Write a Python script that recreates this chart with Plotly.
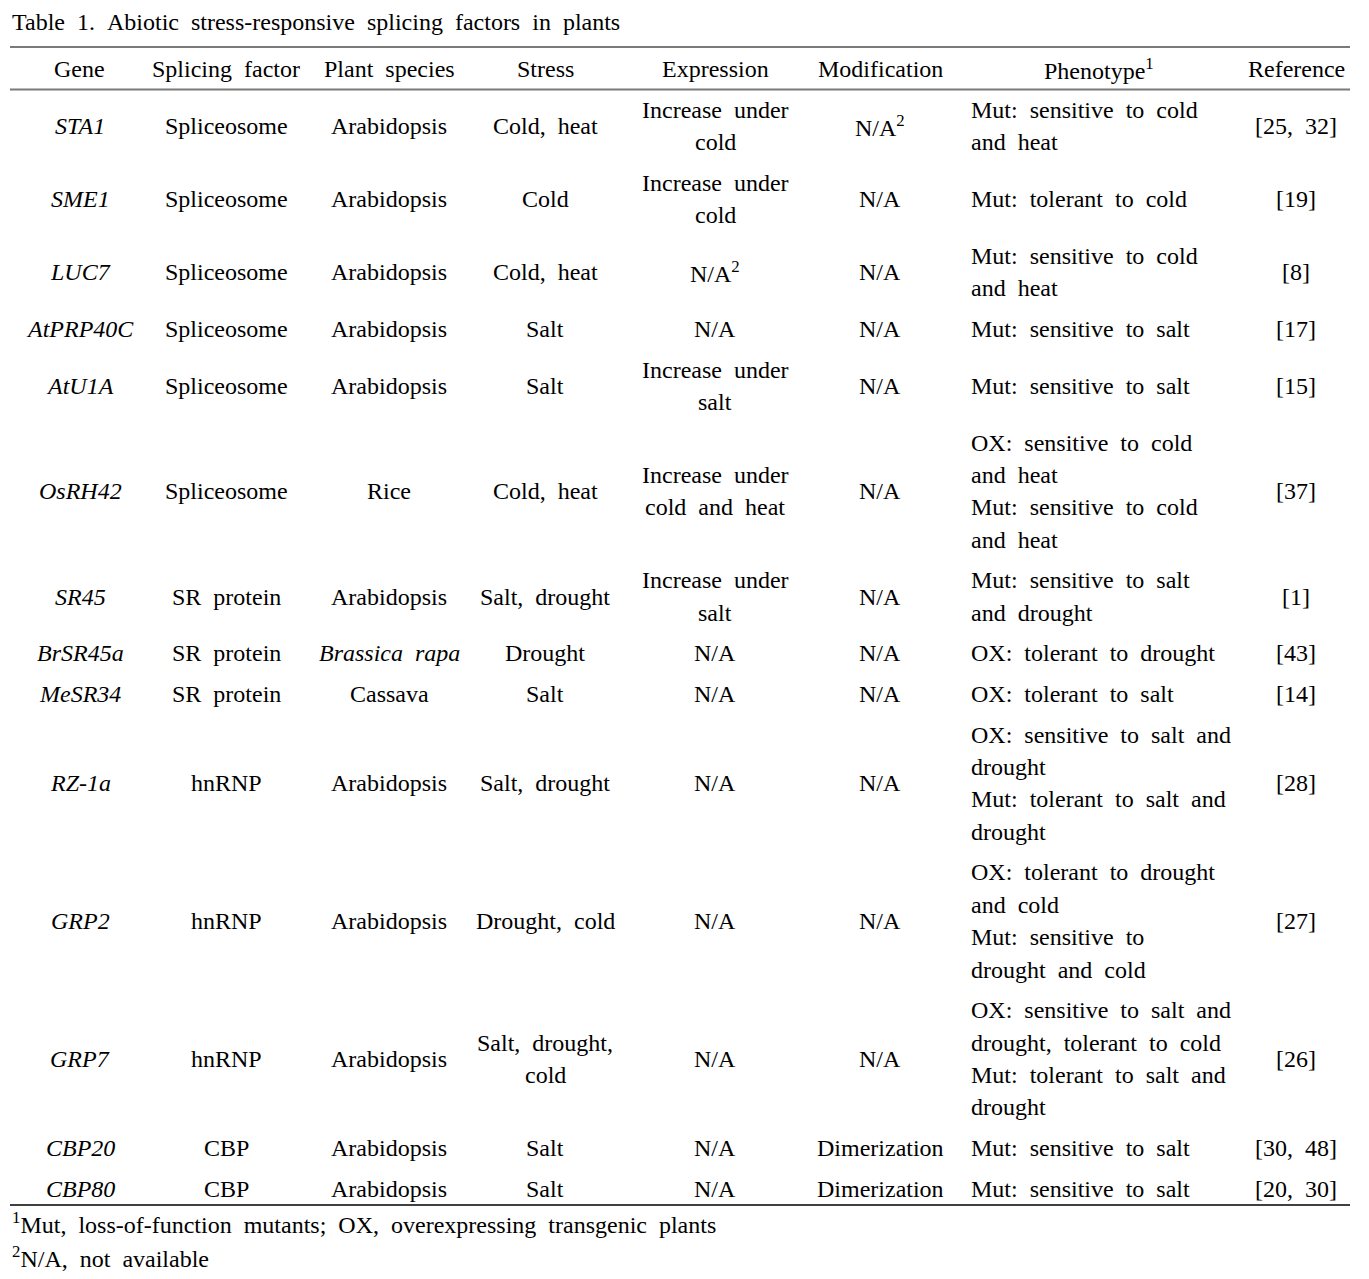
import plotly.graph_objects as go

# ---------------- data ----------------
title = "Table 1. Abiotic stress-responsive splicing factors in plants"
headers = ["Gene", "Splicing factor", "Plant species", "Stress", "Expression",
           "Modification", "Phenotype<sup>1</sup>", "Reference"]
genes = ["STA1", "SME1", "LUC7", "AtPRP40C", "AtU1A", "OsRH42", "SR45", "BrSR45a",
         "MeSR34", "RZ-1a", "GRP2", "GRP7", "CBP20", "CBP80"]
factors = ["Spliceosome", "Spliceosome", "Spliceosome", "Spliceosome", "Spliceosome",
           "Spliceosome", "SR protein", "SR protein", "SR protein", "hnRNP", "hnRNP",
           "hnRNP", "CBP", "CBP"]
species = ["Arabidopsis", "Arabidopsis", "Arabidopsis", "Arabidopsis", "Arabidopsis",
           "Rice", "Arabidopsis", "<i>Brassica rapa</i>", "Cassava", "Arabidopsis",
           "Arabidopsis", "Arabidopsis", "Arabidopsis", "Arabidopsis"]
stress = ["Cold, heat", "Cold", "Cold, heat", "Salt", "Salt", "Cold, heat",
          "Salt, drought", "Drought", "Salt", "Salt, drought", "Drought, cold",
          "Salt, drought,<br>cold", "Salt", "Salt"]
expression = ["Increase under<br>cold", "Increase under<br>cold", "N/A<sup>2</sup>", "N/A",
              "Increase under<br>salt", "Increase under<br>cold and heat",
              "Increase under<br>salt", "N/A", "N/A", "N/A", "N/A", "N/A", "N/A", "N/A"]
modification = ["N/A<sup>2</sup>", "N/A", "N/A", "N/A", "N/A", "N/A", "N/A", "N/A",
                "N/A", "N/A", "N/A", "N/A", "Dimerization", "Dimerization"]
phenotype = [
    "Mut: sensitive to cold<br>and heat",
    "Mut: tolerant to cold",
    "Mut: sensitive to cold<br>and heat",
    "Mut: sensitive to salt",
    "Mut: sensitive to salt",
    "OX: sensitive to cold<br>and heat<br>Mut: sensitive to cold<br>and heat",
    "Mut: sensitive to salt<br>and drought",
    "OX: tolerant to drought",
    "OX: tolerant to salt",
    "OX: sensitive to salt and<br>drought<br>Mut: tolerant to salt and<br>drought",
    "OX: tolerant to drought<br>and cold<br>Mut: sensitive to<br>drought and cold",
    "OX: sensitive to salt and<br>drought, tolerant to cold<br>Mut: tolerant to salt and<br>drought",
    "Mut: sensitive to salt",
    "Mut: sensitive to salt",
]
references = ["[25, 32]", "[19]", "[8]", "[17]", "[15]", "[37]", "[1]", "[43]", "[14]",
              "[28]", "[27]", "[26]", "[30, 48]", "[20, 30]"]
footnotes = ["<sup>1</sup>Mut, loss-of-function mutants; OX, overexpressing transgenic plants",
             "<sup>2</sup>N/A, not available"]

# ---------------- layout ----------------
W, H = 1369, 1279
PAGE_MARGIN = 8  # default body margin of the html page
FONT = "Liberation Serif, Times New Roman, serif"
FS = 24
col_x = [80, 226, 389, 545, 715, 880, 969, 1296]
col_anchor = ["center"] * 6 + ["left", "center"]
header_x = [79, 226, 389, 545, 715, 880, 1099, 1296]
LINE = 32.4
GAP = 40.6
FIRST = 110

def sp(t):
    return t.replace(" ", "\u2002")

annotations = []

def add(text, x, y, anchor="center", yanchor="middle"):
    annotations.append(dict(
        text=sp(text), x=x, y=y, xref="x", yref="y", xanchor=anchor, yanchor=yanchor,
        showarrow=False, font=dict(family=FONT, size=FS, color="black"),
        align=anchor))

add(title, 10, 22, "left")
for h, x in zip(headers, header_x):
    add(h, x, 69)

columns = [["<i>%s</i>" % g for g in genes], factors, species, stress, expression,
           modification, phenotype, references]

y = FIRST
for r in range(len(genes)):
    cells = [c[r].split("<br>") for c in columns]
    n = max(len(c) for c in cells)
    center = y + (n - 1) * LINE / 2
    for ci, lines in enumerate(cells):
        m = len(lines)
        start = center - (m - 1) * LINE / 2
        for li, line in enumerate(lines):
            add(line, col_x[ci], start + li * LINE, col_anchor[ci])
    y = y + (n - 1) * LINE + GAP

add(footnotes[0], 10, 1223, "left")
add(footnotes[1], 10, 1257, "left")

shapes = [
    dict(type="line", xref="x", yref="y", x0=10, x1=1350, y0=47, y1=47,
         line=dict(color="#7a7a7a", width=2)),
    dict(type="line", xref="x", yref="y", x0=10, x1=1350, y0=89.5, y1=89.5,
         line=dict(color="#7a7a7a", width=2)),
    dict(type="line", xref="x", yref="y", x0=10, x1=1350, y0=1205, y1=1205,
         line=dict(color="black", width=1.5)),
]

fig = go.Figure()
fig.update_layout(
    width=W - 2 * PAGE_MARGIN, height=H - 2 * PAGE_MARGIN,
    margin=dict(l=0, r=0, t=0, b=0, pad=0),
    paper_bgcolor="white", plot_bgcolor="white",
    xaxis=dict(range=[PAGE_MARGIN, W - PAGE_MARGIN], visible=False, fixedrange=True),
    yaxis=dict(range=[H - PAGE_MARGIN, PAGE_MARGIN], visible=False, fixedrange=True),
    annotations=annotations, shapes=shapes, showlegend=False,
)
fig.write_html("out.html")
